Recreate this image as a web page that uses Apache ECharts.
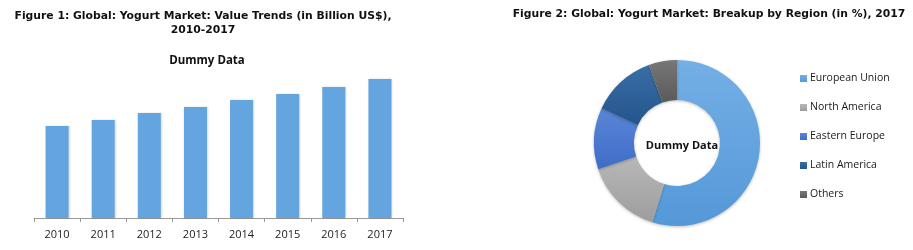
<!DOCTYPE html>
<html><head><meta charset="utf-8">
<script src="https://cdn.jsdelivr.net/npm/echarts@6/dist/echarts.min.js"></script>
<style>html,body{margin:0;padding:0;background:#fff}#c{width:913px;height:250px}</style>
</head><body><div id="c"></div>
<script>
const years = ['2010','2011','2012','2013','2014','2015','2016','2017'];
const values = [9.2, 9.8, 10.5, 11.1, 11.8, 12.4, 13.1, 13.9];
const regions = ['European Union','North America','Eastern Europe','Latin America','Others'];
const shares = [54.8, 15.1, 11.9, 12.7, 5.5];
const regionColors = [['#74afe6','#5598d8'],['#b8b8b8','#9d9d9d'],['#5a86d8','#3f6cc6'],['#3a6ea6','#24558c'],['#777777','#5a5a5a']];

const chart = echarts.init(document.getElementById('c'));
const titleFont = 'DejaVu Sans';
chart.setOption({
  animation: false,
  title: [
    {text: 'Figure 1: Global: Yogurt Market: Value Trends (in Billion US$),\n2010-2017', left: 198, top: 4, textAlign: 'center',
     textStyle: {fontFamily: titleFont, fontWeight: 'bold', fontSize: 10.8, color: '#111', lineHeight: 14}},
    {text: 'Dummy Data', left: 202, top: 50, textAlign: 'center',
     textStyle: {fontFamily: 'Open Sans', fontWeight: 'bold', fontSize: 11.5, color: '#111'}},
    {text: 'Figure 2: Global: Yogurt Market: Breakup by Region (in %), 2017', left: 704, top: 4, textAlign: 'center',
     textStyle: {fontFamily: titleFont, fontWeight: 'bold', fontSize: 10.8, color: '#111'}},
    {text: 'Dummy Data', left: 677, top: 135, textAlign: 'center',
     textStyle: {fontFamily: 'Open Sans', fontWeight: 'bold', fontSize: 11, color: '#111'}}
  ],
  grid: {left: 34, right: 510, top: 70, bottom: 32},
  xAxis: {type: 'category', data: years,
    axisLine: {lineStyle: {color: '#999'}},
    axisTick: {show: true, length: 4, lineStyle: {color: '#999'}},
    axisLabel: {color: '#222', fontFamily: 'Open Sans', fontSize: 11, margin: 11}},
  yAxis: {type: 'value', min: 0, max: 14.8, show: false, splitLine: {show: false}},
  legend: {orient: 'vertical', left: 795, top: 68, itemWidth: 7, itemHeight: 7, itemGap: 18,
    icon: 'rect', data: regions,
    textStyle: {fontFamily: 'Open Sans', fontSize: 10.5, color: '#1a1a1a', padding: [0,0,0,-2]}},
  series: [
    {type: 'bar', data: values, barWidth: '50%',
     itemStyle: {color: '#64a5e0', shadowColor: 'rgba(0,0,0,0.15)', shadowBlur: 2, shadowOffsetX: 1}},
    {type: 'pie', center: [677, 143], radius: [43, 83], startAngle: 90, clockwise: true,
     label: {show: false}, labelLine: {show: false},
     itemStyle: {shadowColor: 'rgba(0,0,0,0.25)', shadowBlur: 3, shadowOffsetY: 1},
     data: regions.map((r, i) => ({name: r, value: shares[i],
       itemStyle: {color: new echarts.graphic.LinearGradient(0, 0, 0, 1, [{offset: 0, color: regionColors[i][0]}, {offset: 1, color: regionColors[i][1]}])}}))}
  ]
});
</script></body></html>
